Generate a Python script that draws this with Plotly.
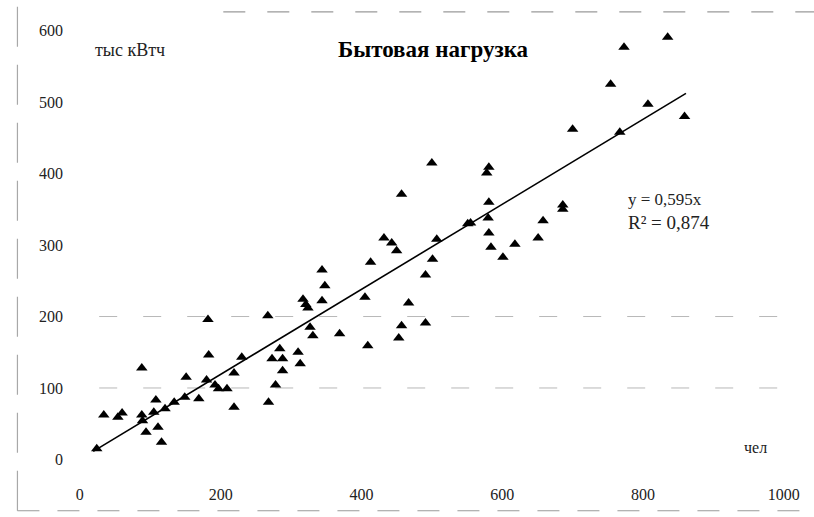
import plotly.graph_objects as go

# Household load vs. number of residents
people = [24, 34, 54, 60, 88, 88, 89, 94, 105, 108, 111, 116, 121, 134, 149, 151,
          169, 180, 182, 183, 192, 197, 209, 219, 219, 230, 267, 268, 278, 284,
          273, 288, 288, 310, 313, 317, 321, 324, 344, 348, 344, 327, 331, 369,
          409, 413, 405, 432, 443, 450, 457, 453, 457, 467, 491, 501, 507, 491,
          500, 555, 551, 580, 581, 581, 578, 581, 584, 601, 618, 651, 658, 686,
          686, 700, 754, 773, 807, 767, 835, 859]
load_kwh = [15, 62, 59, 65, 128, 62, 54, 38, 66, 83, 45, 24, 71, 80, 87, 115,
            85, 111, 196, 146, 104, 99, 99, 121, 73, 143, 201, 80, 104, 155,
            141, 141, 124, 150, 134, 224, 217, 212, 265, 243, 222, 185, 173, 176,
            159, 276, 227, 310, 303, 292, 371, 170, 187, 219, 258, 280, 308, 191,
            415, 331, 330, 338, 360, 409, 401, 317, 297, 283, 301, 310, 334, 356,
            350, 462, 525, 577, 497, 458, 591, 480]

slope = 0.595
r_squared = 0.874

x_ticks = [0, 200, 400, 600, 800, 1000]
y_ticks = [0, 100, 200, 300, 400, 500, 600]
grid_levels = [100, 200]

SERIF = "Liberation Serif"
INK = "#222222"

# trend line through the origin with the stated slope
line_x = [min(people) - 5, max(people) + 2]
line_y = [slope * v for v in line_x]

fig = go.Figure()
fig.add_trace(go.Scatter(
    x=people, y=load_kwh, mode="markers",
    marker=dict(symbol="triangle-up", size=10, color="black"),
    hoverinfo="x+y", showlegend=False,
))
fig.add_trace(go.Scatter(
    x=line_x, y=line_y, mode="lines",
    line=dict(color="black", width=1.6),
    hoverinfo="skip", showlegend=False,
))

shapes = []
for g in grid_levels:
    shapes.append(dict(type="line", xref="paper", yref="y", x0=0.04, x1=0.99,
                       y0=g, y1=g, layer="below",
                       line=dict(color="#b8b8b8", width=1, dash="18px,26px")))
# outer frame of the chart
shapes += [
    dict(type="line", xref="paper", yref="paper", x0=-0.072, x1=-0.072,
         y0=-0.07, y1=1.01, line=dict(color="#a8a8a8", width=1.2, dash="40px,18px")),
    dict(type="line", xref="paper", yref="paper", x0=-0.072, x1=1.02,
         y0=-0.07, y1=-0.07, line=dict(color="#9a9a9a", width=1.2, dash="22px,18px")),
    dict(type="line", xref="paper", yref="paper", x0=0.21, x1=1.02,
         y0=0.996, y1=0.996, line=dict(color="#9a9a9a", width=1.2, dash="22px,22px")),
]

annotations = [
    dict(text="<b>Бытовая нагрузка</b>", xref="paper", yref="paper",
         x=0.498, y=0.915, xanchor="center", yanchor="middle", showarrow=False,
         font=dict(family=SERIF, size=23, color="black")),
    dict(text="тыс кВтч", xref="paper", yref="paper", x=0.032, y=0.915,
         xanchor="left", yanchor="middle", showarrow=False,
         font=dict(family=SERIF, size=18, color=INK)),
    dict(text="чел", xref="paper", yref="paper", x=0.92, y=0.065,
         xanchor="left", yanchor="middle", showarrow=False,
         font=dict(family=SERIF, size=16, color=INK)),
    dict(text=f"y = {slope:.3f}x".replace(".", ","), xref="paper", yref="paper",
         x=0.762, y=0.595, xanchor="left", yanchor="middle", showarrow=False,
         font=dict(family=SERIF, size=17, color=INK)),
    dict(text=f"R² = {r_squared:.3f}".replace(".", ","), xref="paper", yref="paper",
         x=0.762, y=0.546, xanchor="left", yanchor="middle", showarrow=False,
         font=dict(family=SERIF, size=19, color=INK)),
]

fig.update_layout(
    width=814, height=517, autosize=False,
    margin=dict(l=70, r=14, t=10, b=39),
    paper_bgcolor="white", plot_bgcolor="white",
    shapes=shapes, annotations=annotations,
    xaxis=dict(range=[-14, 1023], tickvals=x_ticks, showgrid=False,
               zeroline=False, showline=False, ticks="",
               ticklabelstandoff=5,
               tickfont=dict(family=SERIF, size=16, color=INK)),
    yaxis=dict(range=[-26, 629], tickvals=y_ticks, showgrid=False,
               zeroline=False, showline=False, ticks="",
               ticklabelstandoff=6,
               tickfont=dict(family=SERIF, size=16, color=INK)),
)

fig.write_html("out.html")
